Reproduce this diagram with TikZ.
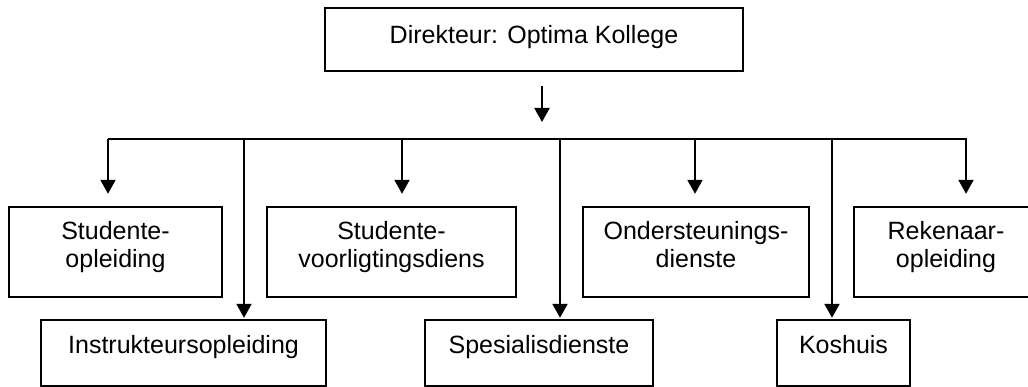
\documentclass[tikz,border=0pt]{standalone}
\usepackage{fontspec}
\setmainfont{Liberation Sans}
\usetikzlibrary{arrows.meta}
\begin{document}
\begin{tikzpicture}[x=1pt,y=-1pt,
  box/.style={draw=black,line width=2.4pt,inner sep=0pt,align=center,
    font=\fontsize{25}{28}\selectfont,text height=18pt},
  upperbox/.style={box,minimum height=90pt,text depth=42pt},
  lowerbox/.style={box,minimum height=66.5pt,text depth=18pt},
  arr/.style={line width=2pt,-{Triangle[width=15pt,length=14pt]}},
  busline/.style={line width=2pt}]
\useasboundingbox (0,0) rectangle (1028,387);
\clip (0,0) rectangle (1028,387);
% top box
\node[box,minimum width=418pt,minimum height=63pt,text depth=10.4pt] (dir) at (534,39.5) {Direkteur: Optima Kollege};
% upper row
\node[upperbox,minimum width=213pt] (so) at (115.5,252) {\begin{tabular}[t]{@{}c@{}}Studente-\\opleiding\end{tabular}};
\node[upperbox,minimum width=249pt] (sv) at (391.5,252) {\begin{tabular}[t]{@{}c@{}}Studente-\\voorligtingsdiens\end{tabular}};
\node[upperbox,minimum width=226pt] (od) at (696,252) {\begin{tabular}[t]{@{}c@{}}Ondersteunings-\\dienste\end{tabular}};
\node[upperbox,minimum width=184pt] (ro) at (946,252) {\begin{tabular}[t]{@{}c@{}}Rekenaar-\\opleiding\end{tabular}};
% lower row
\node[lowerbox,minimum width=285pt] (io) at (183.5,353.25) {Instrukteursopleiding};
\node[lowerbox,minimum width=228pt] (sd) at (539,353.25) {Spesialisdienste};
\node[lowerbox,minimum width=133pt] (ko) at (843.5,353.25) {Koshuis};
% bus coordinates
\coordinate (tx) at (542,139);
\coordinate (b1) at (108,139);
\coordinate (b2) at (244,139);
\coordinate (b3) at (402,139);
\coordinate (b4) at (560,139);
\coordinate (b5) at (695,139);
\coordinate (b6) at (832,139);
\coordinate (b7) at (966,139);
\coordinate (bend) at (967,139);
% connectors
\draw[arr,shorten <=14pt,shorten >=17pt] (dir.south -| tx) -- (tx);
\draw[busline] (b1) -- (bend);
\draw[arr,shorten >=12pt] (b1) -- (b1 |- so.north);
\draw[arr,shorten >=12pt] (b3) -- (b3 |- sv.north);
\draw[arr,shorten >=12pt] (b5) -- (b5 |- od.north);
\draw[arr,shorten >=12pt] (b7) -- (b7 |- ro.north);
\draw[arr,shorten >=1pt] (b2) -- (b2 |- io.north);
\draw[arr,shorten >=1pt] (b4) -- (b4 |- sd.north);
\draw[arr,shorten >=1pt] (b6) -- (b6 |- ko.north);
\end{tikzpicture}
\end{document}
